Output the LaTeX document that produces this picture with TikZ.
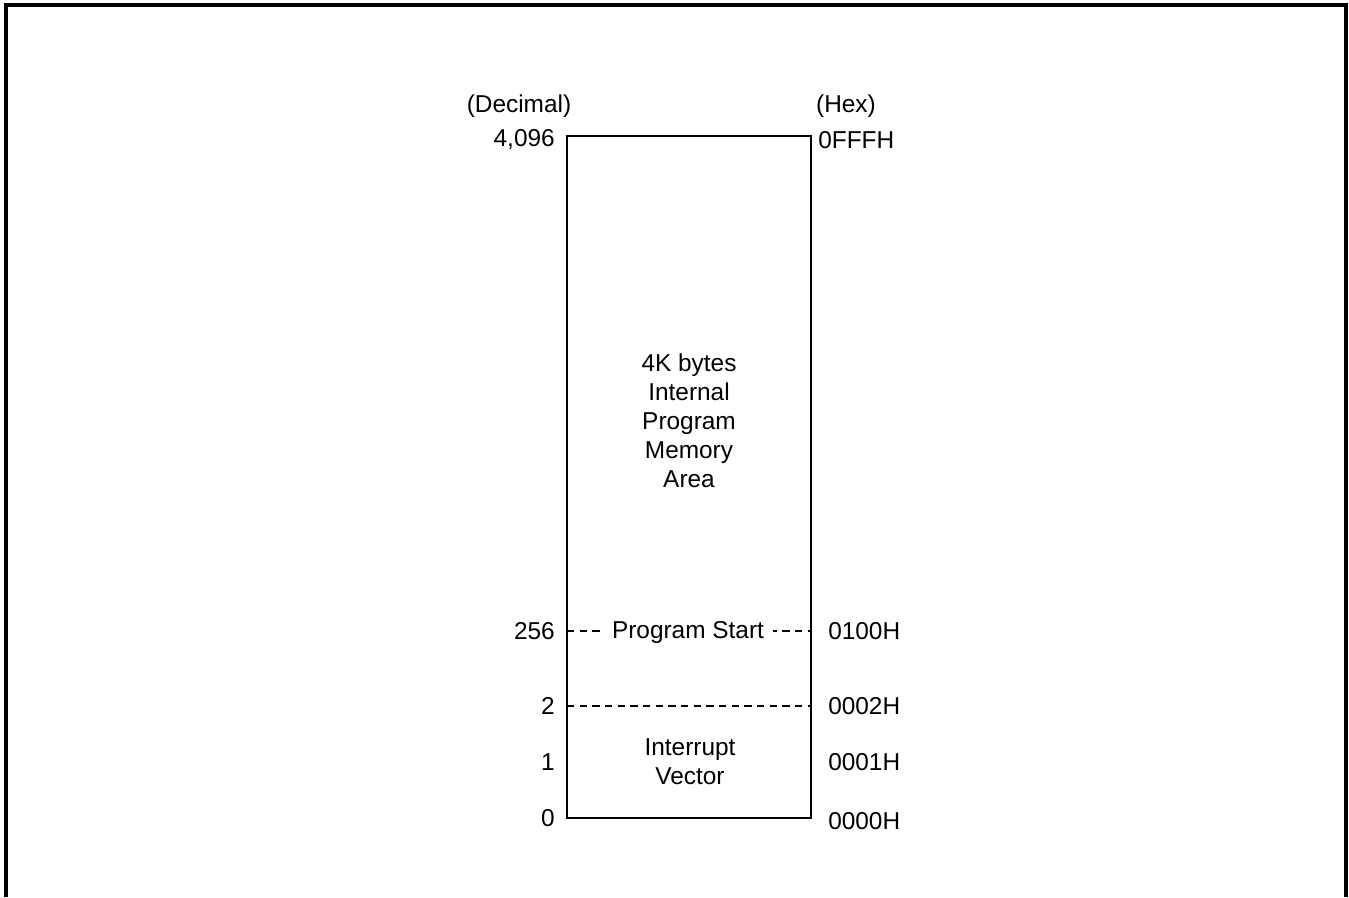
\documentclass[tikz,border=0pt]{standalone}
\usepackage{fontspec}
\setmainfont{Liberation Sans}
\begin{document}
\begin{tikzpicture}[x=0.75pt,y=-0.75pt,
  lbl/.style={font=\fontsize{18.3}{22}\selectfont, inner sep=0pt},
  boxline/.style={line width=1.5pt},
  dline/.style={line width=1.1pt, dash pattern=on 5.5pt off 4pt},
  frame/.style={line width=2.4pt}]
\useasboundingbox (0,0) rectangle (1349,897);
% outer frame (open at bottom)
\draw[frame] (6,897) -- (6,5) -- (1346,5) -- (1346,897);
% memory box
\coordinate (tl) at (567,136);
\coordinate (tr) at (811,136);
\coordinate (bl) at (567,818);
\coordinate (br) at (811,818);
\draw[boxline] (tl) -- (tr) -- (br) -- (bl) -- cycle;
% dashed separators
\coordinate (pl) at (567,631);
\coordinate (pr) at (811,631);
\coordinate (il) at (567,706);
\coordinate (ir) at (811,706);
\draw[dline] (pl) -- (pr);
\draw[dline] (il) -- (ir);
\node[lbl, fill=white, inner xsep=7pt, inner ysep=3pt] (ps) at (688,633) {Program Start};
% headers
\node[lbl] (dec) at (519,106) {(Decimal)};
\node[lbl] (hex) at (846,106) {(Hex)};
% left labels
\node[lbl, anchor=east] (d4096) at (555,140) {4,096};
\node[lbl, anchor=east] (d256) at (555,631) {256};
\node[lbl, anchor=east] (d2) at (555,706) {2};
\node[lbl, anchor=east] (d1) at (555,762) {1};
\node[lbl, anchor=east] (d0) at (555,818) {0};
% right labels
\node[lbl, anchor=west] (hFFF) at (818,140) {0FFFH};
\node[lbl, anchor=west] (h100) at (828,631) {0100H};
\node[lbl, anchor=west] (h2) at (828,706) {0002H};
\node[lbl, anchor=west] (h1) at (828,762) {0001H};
\node[lbl, anchor=west] (h0) at (828,821) {0000H};
% center texts
\node[lbl, align=center, font=\fontsize{18.3}{21.7}\selectfont] (mem) at (689,421) {4K bytes\\Internal\\Program\\Memory\\Area};
\node[lbl, align=center, font=\fontsize{18.3}{21.7}\selectfont] (iv) at (690,762) {Interrupt\\Vector};
\end{tikzpicture}
\end{document}
